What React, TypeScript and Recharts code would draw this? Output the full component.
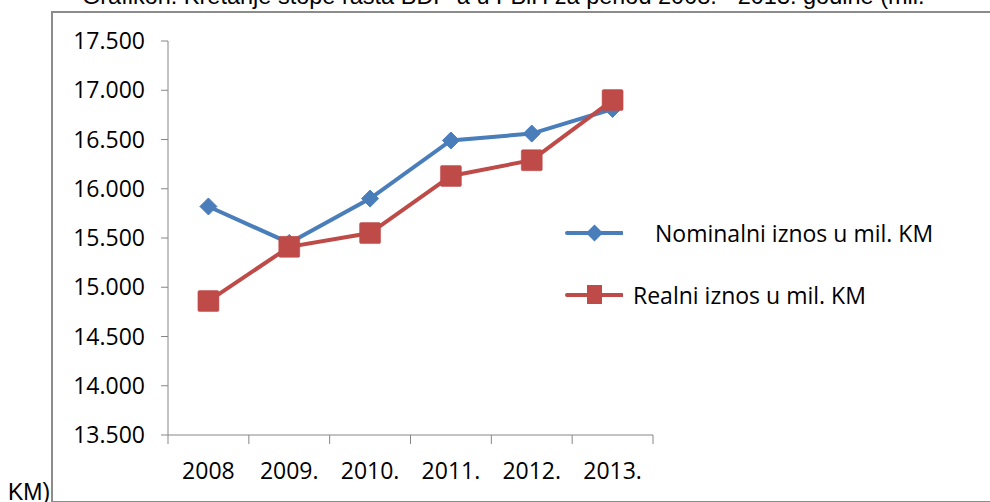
import React from 'react';
import { LineChart, Line, XAxis, YAxis, Legend } from 'recharts';

const years = ['2008', '2009.', '2010.', '2011.', '2012.', '2013.'];
const nominal = [15820, 15450, 15900, 16490, 16560, 16810];
const real = [14860, 15410, 15550, 16130, 16290, 16900];
const yTicks = [13500, 14000, 14500, 15000, 15500, 16000, 16500, 17000, 17500];

const NOMINAL_NAME = 'Nominalni iznos u mil. KM';
const REAL_NAME = 'Realni iznos u mil. KM';

const BLUE = '#4A7EBB';
const RED = '#BE4B48';
const AXIS = '#868686';
const FONT = '"Open Sans", sans-serif';
const TITLE_FONT = '"Liberation Sans", Arial, sans-serif';

const W = 990;
const H = 502;
const PLOT_LEFT = 168;
const PLOT_RIGHT = 653;
const PLOT_TOP = 41;
const PLOT_BOTTOM = 435;
const BAND = (PLOT_RIGHT - PLOT_LEFT) / years.length;

const data = years.map((y, i) => ({ year: y, nominal: nominal[i], real: real[i] }));

// 17500 -> "17.500"
const fmt = (v: number) => String(v).replace(/\B(?=(\d{3})+(?!\d))/g, '.');

const Diamond = (props: any) => {
  const { cx, cy } = props;
  if (cx == null || cy == null) return null;
  const r = 8.5;
  return <polygon points={`${cx},${cy - r} ${cx + r},${cy} ${cx},${cy + r} ${cx - r},${cy}`} fill={BLUE} stroke={BLUE} strokeWidth={1} />;
};

const Square = (props: any) => {
  const { cx, cy } = props;
  if (cx == null || cy == null) return null;
  const s = 21;
  return <rect x={cx - s / 2} y={cy - s / 2} width={s} height={s} rx={1.5} fill={RED} stroke={RED} strokeWidth={0.5} />;
};

const XTick = (props: any) => {
  const { x, y, payload, index } = props;
  const last = index === years.length - 1;
  return (
    <g>
      <line x1={x - BAND / 2} x2={x - BAND / 2} y1={y} y2={y + 9} stroke={AXIS} />
      {last && <line x1={x + BAND / 2} x2={x + BAND / 2} y1={y} y2={y + 9} stroke={AXIS} />}
      <text x={x} y={y + 44} textAnchor="middle" fill="#000" fontSize={23} fontFamily={FONT}>{payload.value}</text>
    </g>
  );
};

const renderLegend = () => (
  <div style={{ fontFamily: FONT, fontSize: 23, color: '#000' }}>
    <div style={{ position: 'absolute', left: 0, top: 0, height: 36, width: 420 }}>
      <svg width={60} height={36} style={{ position: 'absolute', left: 0, top: 0 }}>
        <line x1={4} x2={59} y1={18} y2={18} stroke={BLUE} strokeWidth={4} strokeLinecap="round" />
        <polygon points="31.5,9.5 40,18 31.5,26.5 23,18" fill={BLUE} />
      </svg>
      <span style={{ position: 'absolute', left: 92, top: 0, lineHeight: '36px', whiteSpace: 'nowrap' }}>{NOMINAL_NAME}</span>
    </div>
    <div style={{ position: 'absolute', left: 0, top: 62, height: 36, width: 420 }}>
      <svg width={60} height={36} style={{ position: 'absolute', left: 0, top: 0 }}>
        <line x1={4} x2={59} y1={18} y2={18} stroke={RED} strokeWidth={4} strokeLinecap="round" />
        <rect x={24} y={8} width={15} height={19} fill={RED} />
      </svg>
      <span style={{ position: 'absolute', left: 70, top: 0, lineHeight: '36px', whiteSpace: 'nowrap' }}>{REAL_NAME}</span>
    </div>
  </div>
);

export default function App() {
  return (
    <div style={{ position: 'absolute', left: 0, top: 0, width: W, height: H, overflow: 'hidden', background: '#fff' }}>
      <div style={{ position: 'absolute', left: 82, top: -15, fontFamily: TITLE_FONT, fontSize: 23.5, lineHeight: '23.5px', whiteSpace: 'nowrap', color: '#000' }}>
        Grafikon: Kretanje stope rasta BDP-a u FBiH za period 2008. - 2013. godine (mil.
      </div>
      <div style={{ position: 'absolute', left: 8, top: 481, fontFamily: TITLE_FONT, fontSize: 23, lineHeight: '23px', color: '#000' }}>
        KM)
      </div>
      <div style={{ position: 'absolute', left: 51, top: 11, width: 1000, height: 488, border: '2px solid #8c8c8c' }} />
      <div style={{ position: 'absolute', left: 0, top: 0 }}>
        <LineChart
          width={W}
          height={H}
          data={data}
          margin={{ top: PLOT_TOP, right: W - PLOT_RIGHT, left: PLOT_LEFT - 120, bottom: H - PLOT_BOTTOM - 50 }}
        >
          <XAxis
            dataKey="year"
            scale="band"
            height={50}
            axisLine={{ stroke: AXIS }}
            tickLine={false}
            tickSize={0}
            tickMargin={0}
            interval={0}
            tick={<XTick />}
          />
          <YAxis
            width={120}
            domain={[13500, 17500]}
            ticks={yTicks}
            interval={0}
            axisLine={{ stroke: AXIS }}
            tickLine={{ stroke: AXIS }}
            tickSize={7}
            tickMargin={16}
            tickFormatter={fmt}
            tick={{ fill: '#000', fontSize: 23, fontFamily: FONT }}
          />
          <Legend
            layout="horizontal"
            verticalAlign="middle"
            align="center"
            content={renderLegend}
            wrapperStyle={{ left: 563, top: 215, width: 420, height: 100 }}
          />
          <Line
            name={NOMINAL_NAME}
            dataKey="nominal"
            stroke={BLUE}
            strokeWidth={4}
            dot={<Diamond />}
            activeDot={false}
            isAnimationActive={false}
          />
          <Line
            name={REAL_NAME}
            dataKey="real"
            stroke={RED}
            strokeWidth={4}
            dot={<Square />}
            activeDot={false}
            isAnimationActive={false}
          />
        </LineChart>
      </div>
    </div>
  );
}
